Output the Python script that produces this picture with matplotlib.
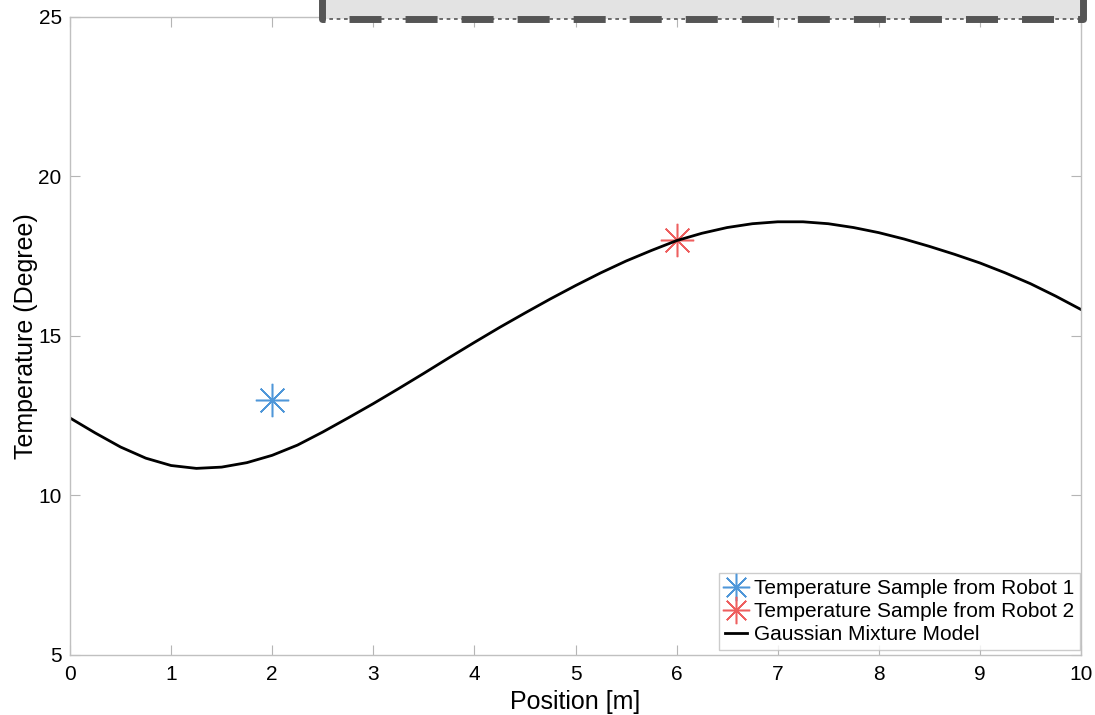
import matplotlib.pyplot as plt
from matplotlib.patches import Rectangle

plt.rcParams['font.family'] = ['Liberation Sans', 'DejaVu Sans']

# Gaussian mixture model curve
gmm_x = [0, 0.25, 0.5, 0.75, 1.0, 1.25, 1.5, 1.75, 2.0, 2.25, 2.5, 2.75,
         3.0, 3.25, 3.5, 3.75, 4.0, 4.25, 4.5, 4.75, 5.0, 5.25, 5.5, 5.75,
         6.0, 6.25, 6.5, 6.75, 7.0, 7.25, 7.5, 7.75, 8.0, 8.25, 8.5, 8.75,
         9.0, 9.25, 9.5, 9.75, 10.0]
gmm_y = [12.43, 11.96, 11.52, 11.17, 10.94, 10.85, 10.89, 11.03, 11.26, 11.58,
         11.99, 12.43, 12.88, 13.35, 13.83, 14.32, 14.80, 15.27, 15.72, 16.16,
         16.58, 16.98, 17.35, 17.68, 17.99, 18.22, 18.40, 18.52, 18.58, 18.58,
         18.52, 18.40, 18.24, 18.04, 17.81, 17.56, 17.29, 16.98, 16.64, 16.25,
         15.83]

robot1_x = [2]
robot1_y = [13]
robot2_x = [6]
robot2_y = [18]

xticks = list(range(0, 11))
yticks = [5, 10, 15, 20, 25]

fig = plt.figure(figsize=(10.95, 7.15), dpi=100)
ax = fig.add_axes([70 / 1095, 1 - 655 / 715, 1011 / 1095, 638 / 715])

star = (8, 2, 0)
ax.plot(robot1_x, robot1_y, linestyle='none', marker=star, markersize=24,
        markeredgewidth=1.1, color='#4f97d9', label='Temperature Sample from Robot 1')
ax.plot(robot2_x, robot2_y, linestyle='none', marker=star, markersize=24,
        markeredgewidth=1.1, color='#ee5f5f', label='Temperature Sample from Robot 2')
ax.plot(gmm_x, gmm_y, color='black', linewidth=2, solid_joinstyle='round',
        label='Gaussian Mixture Model')

ax.set_xlim(0, 10)
ax.set_ylim(5, 25)
ax.set_xticks(xticks)
ax.set_yticks(yticks)
ax.tick_params(direction='in', top=True, right=True, labelsize=15,
               color='#b5b5b5', length=7)
ax.tick_params(axis='x', pad=7)
ax.tick_params(axis='y', pad=6)
for s in ax.spines.values():
    s.set_color('#c0c0c0')
    s.set_linewidth(1)
ax.set_xlabel('Position [m]', fontsize=18, labelpad=4.5)
ax.set_ylabel('Temperature (Degree)', fontsize=18, labelpad=0)

leg = ax.legend(loc='lower right', bbox_to_anchor=(0.999, 0.008),
                borderaxespad=0, fontsize=15, frameon=True, fancybox=False,
                markerscale=0.82, handlelength=1.05, handletextpad=0.35,
                borderpad=0.27, labelspacing=0.2)
leg.get_frame().set_edgecolor('#c0c0c0')
leg.get_frame().set_linewidth(1)

# grey box sticking in from above the axes
box_x0, box_x1 = 2.49, 10.02
ax.add_patch(Rectangle((box_x0, 24.95), box_x1 - box_x0, 3, facecolor='#e3e3e3',
                       edgecolor='none', clip_on=False, zorder=5))
ax.plot([box_x0, box_x1], [24.95, 24.95], color='#555555', linewidth=1.2,
        linestyle=(0, (2.2, 2.2)), clip_on=False, zorder=6)
ax.plot([box_x0, box_x1], [24.95, 24.95], color='#555555', linewidth=5,
        linestyle=(4.18, (4.61, 3.46)), clip_on=False, zorder=7)
for bx in (box_x0, box_x1):
    ax.plot([bx, bx], [24.95, 28], color='#555555', linewidth=5,
            solid_capstyle='round', clip_on=False, zorder=7)

fig.savefig('out.png', dpi=100)
